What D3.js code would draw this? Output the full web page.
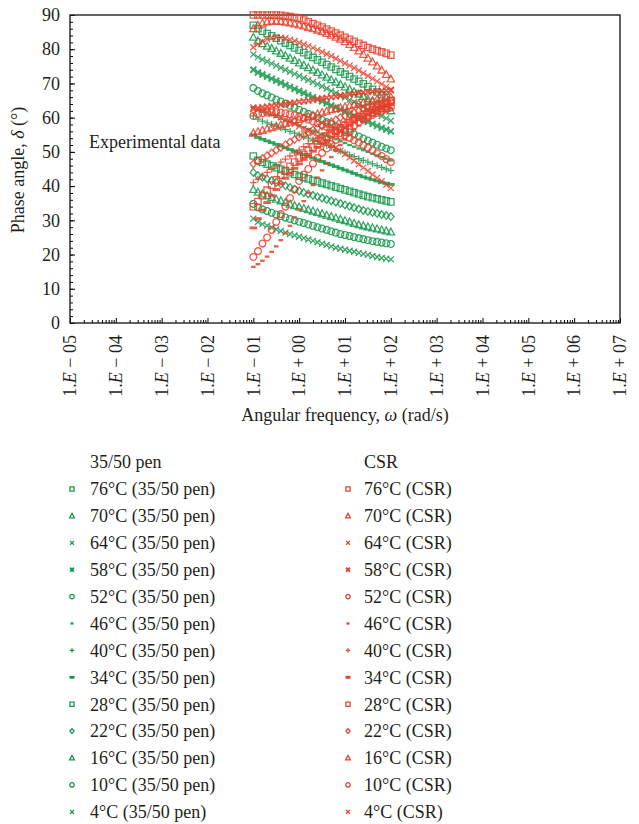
<!DOCTYPE html>
<html><head><meta charset="utf-8">
<script src="https://cdn.jsdelivr.net/npm/d3@7"></script>
<style>
body{margin:0;background:#fff;}
text{font-family:"Liberation Serif","Times New Roman",serif;fill:#231f20;}
</style></head>
<body>
<svg id="c" width="639" height="824"></svg>
<script>
// ---- DATA ----
const omega = [0.1,0.126,0.158,0.2,0.251,0.316,0.398,0.501,0.631,0.794,1,1.26,1.58,2,2.51,3.16,3.98,5.01,6.31,7.94,10,12.6,15.8,20,25.1,31.6,39.8,50.1,63.1,79.4,100];
const temps = ["76°C","70°C","64°C","58°C","52°C","46°C","40°C","34°C","28°C","22°C","16°C","10°C","4°C"];
const markerTypes = ["square","triangle","x","xbold","circle","dash","plus","dashbold","square","diamond","triangle","circle","x"];
const xTickExps = ["− 05","− 04","− 03","− 02","− 01","+ 00","+ 01","+ 02","+ 03","+ 04","+ 05","+ 06","+ 07"];
const yTicks = [0,10,20,30,40,50,60,70,80,90];

// 35/50 pen
const pen76 = [87.0,86.0,85.3,84.6,83.9,83.2,82.5,81.8,81.1,80.4,79.7,79.0,78.3,77.6,76.9,76.2,75.5,74.8,74.1,73.4,72.7,72.0,71.3,70.6,69.9,69.1,68.3,67.5,66.7,65.9,65.0];
const pen70 = [83.5,82.4,81.6,80.9,80.2,79.5,78.8,78.1,77.4,76.7,76.0,75.3,74.6,73.9,73.2,72.5,71.8,71.1,70.4,69.7,69.0,68.3,67.6,66.9,66.2,65.5,64.8,64.1,63.4,62.7,62.0];
const pen64 = [78.5,77.7,77.0,76.4,75.8,75.2,74.6,74.0,73.4,72.8,72.2,71.6,71.0,70.4,69.8,69.2,68.5,67.8,67.2,66.5,65.9,65.2,64.6,63.9,63.2,62.5,61.8,61.2,60.5,59.8,59.1];
const pen58 = [74.0,73.2,72.6,72.0,71.4,70.8,70.2,69.6,69.0,68.4,67.8,67.2,66.6,66.0,65.4,64.8,64.2,63.6,63.0,62.4,61.8,61.2,60.6,60.0,59.4,58.8,58.2,57.6,57.0,56.5,56.0];
const pen52 = [68.7,67.8,67.1,66.5,65.9,65.3,64.7,64.1,63.5,62.9,62.3,61.7,61.1,60.5,59.9,59.3,58.7,58.1,57.5,56.9,56.3,55.7,55.1,54.5,53.9,53.3,52.7,52.1,51.5,51.0,50.5];
const pen46 = [63.0,62.3,61.7,61.2,60.7,60.2,59.7,59.2,58.7,58.2,57.7,57.2,56.7,56.2,55.7,55.2,54.7,54.2,53.7,53.1,52.6,52.0,51.5,51.0,50.5,50.0,49.5,49.0,48.5,48.0,47.5];
const pen40 = [60.5,59.6,59.0,58.5,58.0,57.5,57.0,56.5,56.0,55.5,55.0,54.5,54.0,53.5,53.0,52.4,51.9,51.3,50.8,50.2,49.7,49.1,48.6,48.0,47.5,47.0,46.5,46.0,45.5,45.0,44.5];
const pen34 = [55.0,54.2,53.7,53.2,52.7,52.2,51.7,51.2,50.7,50.2,49.7,49.2,48.7,48.2,47.7,47.2,46.7,46.2,45.7,45.2,44.7,44.2,43.7,43.2,42.7,42.3,41.9,41.5,41.1,40.8,40.5];
const pen28 = [48.8,47.5,46.9,46.4,45.9,45.4,44.9,44.4,43.9,43.4,42.9,42.5,42.1,41.7,41.3,40.9,40.5,40.1,39.7,39.3,38.9,38.5,38.1,37.7,37.3,36.9,36.6,36.3,36.0,35.7,35.4];
const pen22 = [44.0,43.1,42.6,42.1,41.6,41.1,40.6,40.1,39.6,39.1,38.6,38.1,37.7,37.3,36.9,36.5,36.1,35.7,35.3,34.9,34.5,34.1,33.7,33.3,32.9,32.6,32.3,32.0,31.7,31.4,31.1];
const pen16 = [39.0,38.2,37.7,37.2,36.7,36.2,35.7,35.2,34.7,34.3,33.9,33.5,33.1,32.7,32.3,31.9,31.5,31.1,30.7,30.3,29.9,29.5,29.1,28.7,28.4,28.1,27.8,27.5,27.2,26.9,26.6];
const pen10 = [34.8,33.8,33.2,32.7,32.2,31.7,31.2,30.8,30.4,30.0,29.6,29.2,28.8,28.4,28.0,27.6,27.2,26.8,26.4,26.0,25.7,25.4,25.1,24.8,24.5,24.2,23.9,23.7,23.5,23.3,23.1];
const pen4  = [30.5,29.5,28.9,28.4,27.9,27.4,26.9,26.4,26.0,25.6,25.2,24.8,24.4,24.0,23.6,23.2,22.8,22.4,22.0,21.7,21.4,21.1,20.8,20.5,20.2,19.9,19.6,19.3,19.0,18.8,18.6];

// CSR
const csr76 = [90,90,90,90,90,90,89.9,89.7,89.5,89.3,89.0,88.5,88.0,87.5,87.0,86.5,85.9,85.3,84.7,84.1,83.5,82.9,82.3,81.7,81.1,80.5,80.0,79.6,79.2,78.8,78.3];
const csr70 = [86.0,87.0,87.6,88.0,88.2,88.2,88.1,87.9,87.7,87.4,87.1,86.8,86.4,86.0,85.6,85.1,84.6,84.1,83.5,82.9,82.2,81.4,80.5,79.5,78.5,77.4,76.3,75.1,73.9,72.6,71.3];
const csr64 = [80.6,81.5,82.3,83.0,83.4,83.5,83.4,83.2,82.8,82.4,81.9,81.4,80.9,80.4,79.8,79.2,78.6,78.0,77.3,76.6,75.9,75.2,74.5,73.8,73.0,72.2,71.4,70.6,69.8,69.0,68.2];
const csr58 = [62.5,62.8,63.0,63.2,63.4,63.6,63.8,64.0,64.2,64.4,64.6,64.8,65.0,65.2,65.4,65.6,65.8,66.0,66.2,66.4,66.6,66.8,67.0,67.2,67.4,67.5,67.6,67.7,67.8,67.9,68.0];
const csr52 = [60.5,61.0,61.3,61.5,61.6,61.6,61.5,61.3,61.0,60.7,60.3,59.9,59.4,58.9,58.4,57.9,57.3,56.7,56.1,55.5,54.8,54.1,53.4,52.7,52.0,51.2,50.4,49.6,48.8,47.9,47.0];
const csr46 = [16.4,17.2,18.2,19.4,20.8,22.4,24.2,26.2,28.4,30.8,33.2,35.6,38.0,40.3,42.5,44.6,46.6,48.5,50.3,52.0,53.6,55.1,56.5,57.7,58.8,59.7,60.5,61.2,61.8,62.3,62.7];
const csr40 = [41.0,42.0,43.0,44.0,45.0,46.0,47.0,47.9,48.8,49.7,50.6,51.5,52.4,53.2,54.0,54.8,55.6,56.4,57.2,57.9,58.6,59.3,60.0,60.6,61.2,61.8,62.4,62.9,63.4,63.8,64.2];
const csr34 = [27.8,30.5,33.0,35.2,37.2,39.0,40.7,42.3,43.8,45.2,46.5,47.8,49.0,50.2,51.3,52.4,53.4,54.4,55.3,56.2,57.1,57.9,58.7,59.4,60.1,60.8,61.5,62.1,62.7,63.3,63.8];
const csr28 = [34.0,35.5,37.2,38.8,40.3,41.8,43.2,44.5,45.8,47.0,48.2,49.3,50.4,51.4,52.4,53.4,54.3,55.2,56.1,57.0,57.8,58.6,59.4,60.2,61.0,61.7,62.4,63.1,63.8,64.4,65.0];
const csr22 = [46.5,47.3,48.1,48.9,49.7,50.5,51.3,52.1,52.9,53.6,54.3,55.0,55.7,56.4,57.0,57.6,58.2,58.8,59.4,60.0,60.5,61.0,61.5,62.0,62.5,63.0,63.4,63.8,64.2,64.5,64.8];
const csr16 = [55.5,55.9,56.3,56.7,57.1,57.5,57.9,58.3,58.7,59.1,59.5,59.9,60.3,60.7,61.1,61.5,61.9,62.3,62.6,62.9,63.2,63.5,63.8,64.1,64.4,64.7,65.0,65.3,65.6,65.8,66.0];
const csr10 = [19.3,21.0,23.2,25.0,27.2,29.5,31.8,34.0,36.5,39.0,41.5,43.4,45.0,46.6,48.2,49.7,51.0,52.3,53.5,54.7,55.8,56.8,57.7,58.6,59.4,60.1,60.8,61.4,62.0,62.5,63.0];
const csr4  = [63.0,62.6,62.2,61.7,61.2,60.7,60.1,59.5,58.9,58.2,57.5,56.8,56.1,55.4,54.6,53.8,53.0,52.1,51.2,50.3,49.4,48.4,47.4,46.4,45.4,44.4,43.4,42.4,41.4,40.4,39.4];

const penSeries = [pen76,pen70,pen64,pen58,pen52,pen46,pen40,pen34,pen28,pen22,pen16,pen10,pen4];
const csrSeries = [csr76,csr70,csr64,csr58,csr52,csr46,csr40,csr34,csr28,csr22,csr16,csr10,csr4];

// ---- STYLE ----
const GREEN = "#14984a", RED = "#e8412b";
const svg = d3.select("#c");
const L=70, R=620, T=15, B=323;
const x = d3.scaleLog().domain([1e-5,1e7]).range([L,R]);
const y = d3.scaleLinear().domain([0,90]).range([B,T]);

function markerPath(t, k){
  const s=3.2*k, tr=3.9*k, r=3.4*k, d=3.8*k;
  switch(t){
    case "square": return `M${-s},${-s}H${s}V${s}H${-s}Z`;
    case "triangle": return `M0,${-tr}L${tr*0.95},${tr*0.75}L${-tr*0.95},${tr*0.75}Z`;
    case "circle": return `M${r},0A${r},${r} 0 1,1 ${-r},0A${r},${r} 0 1,1 ${r},0Z`;
    case "diamond": return `M0,${-d}L${d*0.85},0L0,${d}L${-d*0.85},0Z`;
    case "x": case "xbold": { const a=3*k; return `M${-a},${-a}L${a},${a}M${-a},${a}L${a},${-a}`; }
    case "plus": { const a=3.4*k; return `M${-a},0H${a}M0,${-a}V${a}`; }
    case "dash": { const a=2.3*k; return `M${-a},0H${a}`; }
    case "dashbold": { const a=3.8*k; return `M${-a},0H${a}`; }
  }
}
function markerWidth(t){
  if(t==="xbold") return 1.9;
  if(t==="dash") return 2.3;
  if(t==="dashbold") return 2.9;
  return 1.3;
}

// ---- AXES ----
const gY = svg.append("g").attr("transform",`translate(${L},0)`)
  .call(d3.axisLeft(y).tickValues(yTicks).tickSize(-5).tickPadding(10).tickFormat(d3.format("d")));
gY.select(".domain").remove();
gY.selectAll("text").style("font-size","18px").attr("font-family","Liberation Serif");
svg.append("g").attr("transform",`translate(${L},0)`)
  .call(d3.axisLeft(y).tickValues(d3.range(0,91,2)).tickSize(-3).tickFormat(""))
  .select(".domain").remove();

const decades = xTickExps.map((e,i)=>Math.pow(10,i-5));
const gX = svg.append("g").attr("transform",`translate(0,${B})`)
  .call(d3.axisBottom(x).tickValues(decades).tickSize(-5).tickFormat(""));
gX.select(".domain").remove();
const minors=[];
decades.slice(0,-1).forEach(d=>{for(let m=2;m<=9;m++) minors.push(d*m);});
svg.append("g").attr("transform",`translate(0,${B})`)
  .call(d3.axisBottom(x).tickValues(minors).tickSize(-3).tickFormat(""))
  .select(".domain").remove();

// rotated x tick labels
const xl = svg.append("g");
decades.forEach((d,i)=>{
  const t = xl.append("text")
    .attr("transform",`translate(${x(d)},${B+12}) rotate(-90)`)
    .attr("text-anchor","end").attr("dy","0.35em").style("font-size","18px");
  t.append("tspan").text("1.");
  t.append("tspan").attr("font-style","italic").text("E");
  t.append("tspan").text(" " + xTickExps[i]);
});

// frame
svg.append("rect").attr("x",L).attr("y",T).attr("width",R-L).attr("height",B-T)
  .attr("fill","none").attr("stroke","#231f20").attr("stroke-width",1.4);

// axis titles
const yt = svg.append("text").attr("transform",`translate(24,170) rotate(-90)`)
  .attr("text-anchor","middle").style("font-size","18px");
yt.append("tspan").text("Phase angle, ");
yt.append("tspan").attr("font-style","italic").text("δ");
yt.append("tspan").text(" (°)");
const xt = svg.append("text").attr("x",345).attr("y",421).attr("text-anchor","middle").style("font-size","18px");
xt.append("tspan").text("Angular frequency, ");
xt.append("tspan").attr("font-style","italic").text("ω");
xt.append("tspan").text(" (rad/s)");

svg.append("text").attr("x",89).attr("y",142).attr("dy","0.35em").style("font-size","18px").text("Experimental data");

// ---- DATA MARKS ----
function drawSeries(seriesList, color){
  seriesList.forEach((vals,si)=>{
    const t = markerTypes[si];
    svg.append("g").selectAll("path").data(vals.map((v,i)=>[omega[i],v])).join("path")
      .attr("transform",d=>`translate(${x(d[0])},${y(d[1])})`)
      .attr("d",markerPath(t,1))
      .attr("fill","none").attr("stroke",color).attr("stroke-width",markerWidth(t))
      .attr("stroke-opacity",0.85);
  });
}
drawSeries(penSeries, GREEN);
drawSeries(csrSeries, RED);

// ---- LEGEND ----
const rowY = i => 489 + i*26.9;
svg.append("text").attr("x",90).attr("y",462).attr("dy","0.35em").style("font-size","18px").text("35/50 pen");
svg.append("text").attr("x",364).attr("y",462).attr("dy","0.35em").style("font-size","18px").text("CSR");
temps.forEach((tp,i)=>{
  const t = markerTypes[i];
  svg.append("path").attr("transform",`translate(72,${rowY(i)})`).attr("d",markerPath(t,0.65))
    .attr("fill","none").attr("stroke",GREEN).attr("stroke-width",markerWidth(t));
  svg.append("text").attr("x",90).attr("y",rowY(i)).attr("dy","0.35em").style("font-size","18px").text(tp+" (35/50 pen)");
  svg.append("path").attr("transform",`translate(348,${rowY(i)})`).attr("d",markerPath(t,0.65))
    .attr("fill","none").attr("stroke",RED).attr("stroke-width",markerWidth(t));
  svg.append("text").attr("x",364).attr("y",rowY(i)).attr("dy","0.35em").style("font-size","18px").text(tp+" (CSR)");
});
</script>
</body></html>
